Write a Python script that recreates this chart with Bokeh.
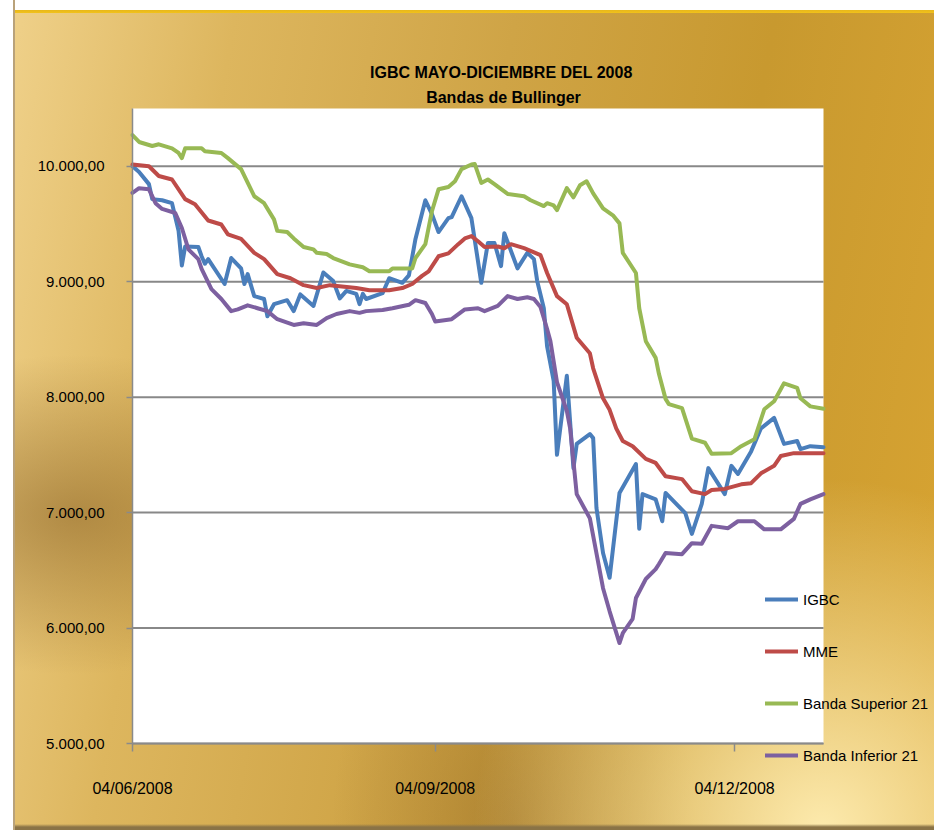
import pandas as pd
from bokeh.plotting import figure
from bokeh.models import (Range1d, FixedTicker, CustomJSTickFormatter, Legend,
                          LegendItem, Label, DatetimeTickFormatter)
from bokeh.embed import file_html
from bokeh.resources import INLINE

# ---------------- data ----------------
igbc = [("2008-06-04", 10000), ("2008-06-06", 9950), ("2008-06-09", 9845), ("2008-06-10", 9715),
        ("2008-06-13", 9705), ("2008-06-16", 9680), ("2008-06-18", 9440), ("2008-06-19", 9140),
        ("2008-06-20", 9305), ("2008-06-24", 9300), ("2008-06-25", 9220), ("2008-06-26", 9155),
        ("2008-06-27", 9195), ("2008-07-02", 8980), ("2008-07-04", 9205), ("2008-07-07", 9115),
        ("2008-07-08", 8980), ("2008-07-09", 9065), ("2008-07-11", 8875), ("2008-07-14", 8850),
        ("2008-07-15", 8700), ("2008-07-17", 8805), ("2008-07-21", 8840), ("2008-07-23", 8745),
        ("2008-07-25", 8890), ("2008-07-29", 8790), ("2008-08-01", 9080), ("2008-08-04", 9005),
        ("2008-08-06", 8855), ("2008-08-08", 8920), ("2008-08-11", 8895), ("2008-08-12", 8805),
        ("2008-08-13", 8895), ("2008-08-14", 8850), ("2008-08-19", 8900), ("2008-08-21", 9030),
        ("2008-08-25", 8990), ("2008-08-27", 9055), ("2008-08-29", 9370), ("2008-09-01", 9705),
        ("2008-09-03", 9585), ("2008-09-05", 9430), ("2008-09-08", 9550), ("2008-09-09", 9560),
        ("2008-09-12", 9740), ("2008-09-15", 9550), ("2008-09-18", 8990), ("2008-09-20", 9335),
        ("2008-09-22", 9335), ("2008-09-24", 9135), ("2008-09-25", 9420), ("2008-09-29", 9115),
        ("2008-10-02", 9250), ("2008-10-04", 9195), ("2008-10-05", 9005), ("2008-10-07", 8770),
        ("2008-10-08", 8440), ("2008-10-10", 8140), ("2008-10-11", 7500), ("2008-10-14", 8185),
        ("2008-10-16", 7385), ("2008-10-17", 7595), ("2008-10-21", 7680), ("2008-10-22", 7645),
        ("2008-10-23", 7040), ("2008-10-25", 6650), ("2008-10-27", 6435), ("2008-10-30", 7170),
        ("2008-11-04", 7420), ("2008-11-05", 6860), ("2008-11-06", 7160), ("2008-11-10", 7115),
        ("2008-11-12", 6925), ("2008-11-13", 7170), ("2008-11-19", 6995), ("2008-11-21", 6815),
        ("2008-11-24", 7075), ("2008-11-26", 7385), ("2008-12-01", 7160), ("2008-12-03", 7405),
        ("2008-12-05", 7335), ("2008-12-09", 7530), ("2008-12-12", 7730), ("2008-12-16", 7820),
        ("2008-12-19", 7595), ("2008-12-23", 7620), ("2008-12-24", 7550), ("2008-12-27", 7575),
        ("2008-12-31", 7565)]

mme = [("2008-06-04", 10015), ("2008-06-09", 10000), ("2008-06-12", 9915), ("2008-06-16", 9885),
       ("2008-06-20", 9715), ("2008-06-23", 9670), ("2008-06-27", 9530), ("2008-07-01", 9495),
       ("2008-07-03", 9410), ("2008-07-07", 9370), ("2008-07-11", 9250), ("2008-07-14", 9195),
       ("2008-07-18", 9065), ("2008-07-22", 9030), ("2008-07-26", 8970), ("2008-07-30", 8945),
       ("2008-08-03", 8970), ("2008-08-11", 8945), ("2008-08-15", 8925), ("2008-08-21", 8925),
       ("2008-08-25", 8945), ("2008-08-28", 8980), ("2008-08-31", 9050), ("2008-09-02", 9090),
       ("2008-09-05", 9220), ("2008-09-08", 9245), ("2008-09-11", 9325), ("2008-09-13", 9375),
       ("2008-09-15", 9395), ("2008-09-17", 9350), ("2008-09-19", 9300), ("2008-09-23", 9305),
       ("2008-09-25", 9290), ("2008-09-27", 9325), ("2008-10-01", 9290), ("2008-10-06", 9230),
       ("2008-10-08", 9075), ("2008-10-11", 8875), ("2008-10-14", 8805), ("2008-10-17", 8515),
       ("2008-10-21", 8380), ("2008-10-22", 8250), ("2008-10-25", 7990), ("2008-10-27", 7890),
       ("2008-10-29", 7730), ("2008-10-31", 7620), ("2008-11-03", 7575), ("2008-11-07", 7465),
       ("2008-11-10", 7430), ("2008-11-13", 7315), ("2008-11-18", 7290), ("2008-11-21", 7185),
       ("2008-11-25", 7160), ("2008-11-27", 7195), ("2008-12-01", 7205), ("2008-12-06", 7245),
       ("2008-12-09", 7255), ("2008-12-12", 7340), ("2008-12-16", 7405), ("2008-12-18", 7490),
       ("2008-12-22", 7515), ("2008-12-27", 7515), ("2008-12-31", 7515)]

banda_sup = [("2008-06-04", 10270), ("2008-06-06", 10210), ("2008-06-10", 10175), ("2008-06-12", 10190),
             ("2008-06-16", 10155), ("2008-06-18", 10115), ("2008-06-19", 10070), ("2008-06-20", 10155),
             ("2008-06-25", 10155), ("2008-06-26", 10130), ("2008-07-01", 10115), ("2008-07-03", 10070),
             ("2008-07-07", 9975), ("2008-07-11", 9740), ("2008-07-14", 9680), ("2008-07-17", 9540),
             ("2008-07-18", 9440), ("2008-07-21", 9430), ("2008-07-23", 9375), ("2008-07-26", 9300),
             ("2008-07-29", 9280), ("2008-07-30", 9250), ("2008-08-02", 9240), ("2008-08-04", 9205),
             ("2008-08-09", 9150), ("2008-08-13", 9125), ("2008-08-15", 9090), ("2008-08-21", 9090),
             ("2008-08-22", 9115), ("2008-08-28", 9115), ("2008-08-29", 9205), ("2008-09-01", 9325),
             ("2008-09-03", 9610), ("2008-09-05", 9800), ("2008-09-08", 9820), ("2008-09-10", 9870),
             ("2008-09-12", 9975), ("2008-09-15", 10015), ("2008-09-16", 10020), ("2008-09-18", 9855),
             ("2008-09-20", 9885), ("2008-09-22", 9845), ("2008-09-26", 9760), ("2008-10-01", 9740),
             ("2008-10-03", 9705), ("2008-10-07", 9655), ("2008-10-08", 9680), ("2008-10-10", 9660),
             ("2008-10-11", 9620), ("2008-10-14", 9810), ("2008-10-16", 9730), ("2008-10-18", 9835),
             ("2008-10-20", 9870), ("2008-10-22", 9765), ("2008-10-25", 9635), ("2008-10-28", 9575),
             ("2008-10-30", 9505), ("2008-10-31", 9250), ("2008-11-04", 9075), ("2008-11-05", 8770),
             ("2008-11-07", 8485), ("2008-11-10", 8340), ("2008-11-11", 8200), ("2008-11-13", 7985),
             ("2008-11-14", 7940), ("2008-11-18", 7905), ("2008-11-21", 7640), ("2008-11-25", 7605),
             ("2008-11-27", 7510), ("2008-12-03", 7515), ("2008-12-06", 7575), ("2008-12-10", 7635),
             ("2008-12-13", 7895), ("2008-12-16", 7965), ("2008-12-19", 8120), ("2008-12-23", 8080),
             ("2008-12-24", 7990), ("2008-12-27", 7920), ("2008-12-31", 7900)]

banda_inf = [("2008-06-04", 9770), ("2008-06-06", 9810), ("2008-06-09", 9800), ("2008-06-11", 9680),
             ("2008-06-13", 9630), ("2008-06-17", 9595), ("2008-06-19", 9465), ("2008-06-21", 9280),
             ("2008-06-24", 9195), ("2008-06-25", 9110), ("2008-06-28", 8935), ("2008-07-01", 8850),
             ("2008-07-04", 8745), ("2008-07-06", 8760), ("2008-07-09", 8795), ("2008-07-12", 8770),
             ("2008-07-15", 8745), ("2008-07-18", 8675), ("2008-07-23", 8625), ("2008-07-26", 8640),
             ("2008-07-30", 8625), ("2008-08-02", 8685), ("2008-08-05", 8720), ("2008-08-09", 8745),
             ("2008-08-12", 8730), ("2008-08-14", 8745), ("2008-08-19", 8755), ("2008-08-22", 8770),
             ("2008-08-27", 8800), ("2008-08-29", 8840), ("2008-09-01", 8815), ("2008-09-03", 8720),
             ("2008-09-04", 8655), ("2008-09-09", 8675), ("2008-09-13", 8760), ("2008-09-17", 8770),
             ("2008-09-19", 8745), ("2008-09-23", 8790), ("2008-09-26", 8875), ("2008-09-29", 8850),
             ("2008-10-02", 8865), ("2008-10-04", 8850), ("2008-10-06", 8780), ("2008-10-08", 8590),
             ("2008-10-09", 8485), ("2008-10-11", 8130), ("2008-10-14", 7880), ("2008-10-15", 7730),
             ("2008-10-17", 7160), ("2008-10-21", 6950), ("2008-10-25", 6345), ("2008-10-27", 6145),
             ("2008-10-30", 5870), ("2008-10-31", 5955), ("2008-11-03", 6080), ("2008-11-04", 6260),
             ("2008-11-07", 6425), ("2008-11-10", 6510), ("2008-11-11", 6555), ("2008-11-13", 6650),
             ("2008-11-18", 6640), ("2008-11-21", 6735), ("2008-11-24", 6730), ("2008-11-27", 6885),
             ("2008-12-02", 6865), ("2008-12-05", 6925), ("2008-12-10", 6925), ("2008-12-13", 6855),
             ("2008-12-18", 6855), ("2008-12-22", 6945), ("2008-12-24", 7075), ("2008-12-27", 7115),
             ("2008-12-31", 7160)]

series_names = ["IGBC", "MME", "Banda Superior 21", "Banda Inferior 21"]
series_colors = ["#4A7EBB", "#BE4B48", "#98B954", "#7D60A0"]
y_ticks = [5000, 6000, 7000, 8000, 9000, 10000]
y_min, y_max = 5000, 10500
x_first, x_last = "2008-06-04", "2008-12-31"
x_tick_dates = ["2008-06-04", "2008-09-04", "2008-12-04"]
title_line1 = "IGBC MAYO-DICIEMBRE  DEL 2008"
title_line2 = "Bandas de Bullinger"

FONT = "Liberation Sans"

# ---------------- layout (pixels) ----------------
W, H = 934, 830
PLOT_L, PLOT_R, PLOT_T, PLOT_B = 132, 823, 108, 743   # white plotting area
t0, t1 = pd.Timestamp(x_first), pd.Timestamp(x_last)
px_per_day = (PLOT_R - PLOT_L) / (t1 - t0).days
px_per_unit = (PLOT_B - PLOT_T) / (y_max - y_min)
x_start = t0 - pd.Timedelta(days=PLOT_L / px_per_day)
x_end = t0 + pd.Timedelta(days=(W - PLOT_L) / px_per_day)
y_top = y_max + PLOT_T / px_per_unit
y_bot = y_min - (H - PLOT_B) / px_per_unit

p = figure(width=W, height=H, x_axis_type="datetime", output_backend="svg",
           toolbar_location=None, title=None,
           x_range=Range1d(x_start, x_end), y_range=Range1d(y_bot, y_top),
           min_border_left=0, min_border_right=0, min_border_top=0, min_border_bottom=0)

p.border_fill_color = None
p.background_fill_color = None
p.outline_line_color = None
p.styles = {"background-image":
            "linear-gradient(to right, #ffffff 0px, #ffffff 13px, #b9a27a 13px, #b9a27a 15px, transparent 15px),"
            "linear-gradient(to bottom, #ffffff 0px, #ffffff 10px, #e7b71c 10px, #f2c21a 13px, transparent 13px),"
            "linear-gradient(to top, #8a7346 0px, #8a7346 3px, transparent 6px),"
            "radial-gradient(ellipse at 88% 100%, rgba(255,238,180,0.95) 0%, rgba(255,238,180,0) 30%),"
            "radial-gradient(ellipse at 8% 62%, rgba(135,95,35,0.55) 0%, rgba(135,95,35,0) 22%),"
            "radial-gradient(ellipse at 55% 100%, rgba(140,100,40,0.45) 0%, rgba(140,100,40,0) 25%),"
            "linear-gradient(100deg, #f0d28c 0%, #ddb65e 22%, #cfa446 48%, #c8992f 72%, #d8a432 100%)"}

# white plotting area and horizontal grid lines
p.quad(left=[t0], right=[t1], bottom=[y_min], top=[y_max], fill_color="white", line_color=None)
p.segment(x0=[t0] * len(y_ticks), x1=[t1] * len(y_ticks), y0=y_ticks, y1=y_ticks,
          line_color="#888888", line_width=2)

items = []
for name, data, color in zip(series_names, [igbc, mme, banda_sup, banda_inf], series_colors):
    xs = pd.to_datetime([d for d, _ in data])
    ys = [v for _, v in data]
    r = p.line(xs, ys, line_color=color, line_width=4, line_join="round", line_cap="round")
    items.append(LegendItem(label=name, renderers=[r]))

# axes (drawn at fixed positions inside the frame)
p.xgrid.visible = False
p.ygrid.visible = False
p.yaxis.ticker = FixedTicker(ticks=y_ticks)
p.yaxis.bounds = (y_min, y_max)
p.yaxis.fixed_location = t0.value / 1e6
p.yaxis.formatter = CustomJSTickFormatter(code="""
    const s = tick.toFixed(2).split('.');
    const i = s[0].replace(/\\B(?=(\\d{3})+(?!\\d))/g, '.');
    return i + ',' + s[1];
""")
p.xaxis.ticker = FixedTicker(ticks=[pd.Timestamp(d).value / 1e6 for d in x_tick_dates])
p.xaxis.bounds = (t0, t1)
p.xaxis.fixed_location = y_min
fmt = "%d/%m/%Y"
p.xaxis.formatter = DatetimeTickFormatter(milliseconds=fmt, seconds=fmt, minsec=fmt, minutes=fmt,
                                          hourmin=fmt, hours=fmt, days=fmt, months=fmt, years=fmt)

for ax in (p.xaxis[0], p.yaxis[0]):
    ax.axis_line_color = "#8a8a8a"
    ax.axis_line_width = 1.5
    ax.major_tick_line_color = "#8a8a8a"
    ax.major_tick_line_width = 1.5
    ax.minor_tick_line_color = None
    ax.major_tick_in = 0
    ax.major_label_text_font = FONT
    ax.major_label_text_color = "black"

p.yaxis.major_label_text_font_size = "15px"
p.xaxis.major_label_text_font_size = "16px"
p.yaxis.major_tick_out = 6
p.yaxis.major_label_standoff = 22
p.xaxis.major_tick_out = 8
p.xaxis.major_label_standoff = 28

# titles (screen units from the frame's bottom-left corner = canvas bottom-left)
for text, base_y in ((title_line1, 72), (title_line2, 97)):
    p.add_layout(Label(x=503, y=H - base_y, x_units="screen", y_units="screen", text=text,
                       text_align="center", text_baseline="alphabetic", text_font=FONT,
                       text_font_size="16px", text_font_style="bold", text_color="black"))

legend = Legend(items=items, location=(765, H - 765), orientation="vertical",
                background_fill_alpha=0, border_line_alpha=0, padding=0, margin=0,
                glyph_width=33, glyph_height=20, label_height=20, spacing=32,
                label_standoff=5, label_text_font=FONT, label_text_font_size="15px",
                label_text_color="black")
p.add_layout(legend)

open("out.html", "w").write(file_html(p, INLINE))
